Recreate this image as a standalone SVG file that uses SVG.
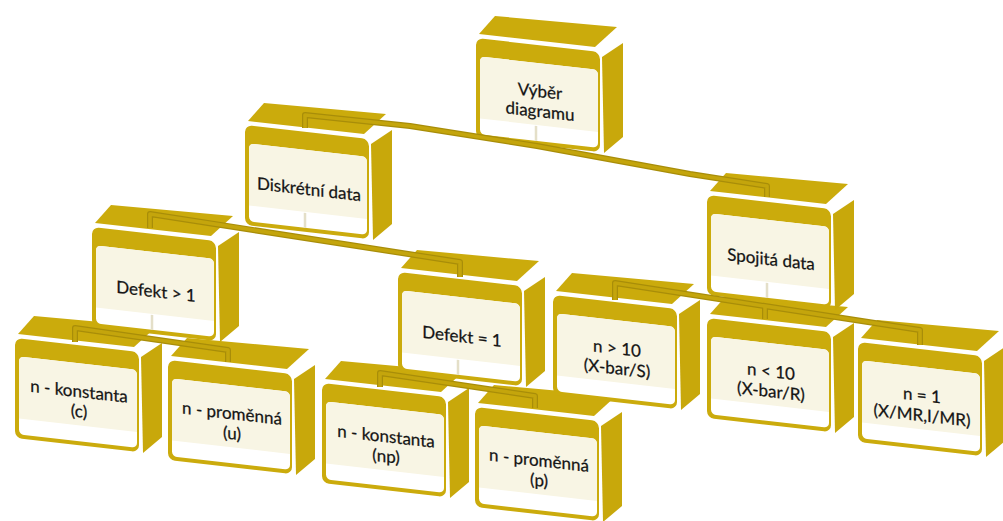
<svg xmlns="http://www.w3.org/2000/svg" width="1003" height="521" viewBox="0 0 1003 521">
  <defs>
    <style>
      .top{fill:#CBAB0C}
      .side{fill:#C8A80B}
      .front{fill:#CBAB0C}
      .panel{fill:#FFFFFF}
      .label{fill:#F8F5E4}
      .drop{stroke:#E4DFC8;stroke-width:2.5}
      .conn-o{fill:none;stroke:#A88D09;stroke-width:6;stroke-linejoin:round}
      .conn-i{fill:none;stroke:#C4A50C;stroke-width:3.6;stroke-linejoin:round}
      text{font-family:Lato,"Open Sans","Liberation Sans",sans-serif;font-size:17px;fill:#141414;stroke:#141414;stroke-width:0.25;text-anchor:middle}
    </style>
    <!-- one 3D box: top face, right face, skewed front face with label panel -->
    <g id="box">
      <polygon class="top" points="3,-4 19,-22 141,-11 119,9"/>
      <polygon class="side" points="126,19 147,5 147,99 128,115"/>
      <g transform="skewY(6.5)">
        <rect class="front" x="0" y="0" width="124" height="100" rx="7"/>
        <rect class="panel" x="4" y="18" width="118" height="78" rx="5"/>
        <path class="label" d="M4,80 V23 Q4,18 9,18 H117 Q122,18 122,23 V80 Z"/>
      </g>
    </g>
    <line id="drop" class="drop" x1="60" y1="81" x2="60" y2="96"/>
  </defs>

  <!-- bottom row first so parents sit in front of their children's top faces -->
  <g id="node-np-konst-c">
    <use href="#box" transform="translate(15,338)"/>
    <g transform="translate(15,338) skewY(6.5)">
      <text x="64" y="52">n - konstanta</text>
      <text x="64" y="72">(c)</text>
    </g>
  </g>
  <g id="node-prom-u">
    <use href="#box" transform="translate(168,360)"/>
    <g transform="translate(168,360) skewY(6.5)">
      <text x="64" y="52">n - proměnná</text>
      <text x="64" y="72">(u)</text>
    </g>
  </g>
  <g id="node-konst-np">
    <use href="#box" transform="translate(322,383)"/>
    <g transform="translate(322,383) skewY(6.5)">
      <text x="64" y="52">n - konstanta</text>
      <text x="64" y="72">(np)</text>
    </g>
  </g>
  <g id="node-prom-p">
    <use href="#box" transform="translate(475,407)"/>
    <g transform="translate(475,407) skewY(6.5)">
      <text x="64" y="52">n - proměnná</text>
      <text x="64" y="72">(p)</text>
    </g>
  </g>
  <g id="node-n-gt-10">
    <use href="#box" transform="translate(553,295)"/>
    <g transform="translate(553,295) skewY(6.5)">
      <text x="64" y="52">n &gt; 10</text>
      <text x="64" y="72">(X-bar/S)</text>
    </g>
  </g>
  <g id="node-n-lt-10">
    <use href="#box" transform="translate(707,318)"/>
    <g transform="translate(707,318) skewY(6.5)">
      <text x="64" y="52">n &lt; 10</text>
      <text x="64" y="72">(X-bar/R)</text>
    </g>
  </g>
  <g id="node-n-eq-1">
    <use href="#box" transform="translate(858,342)"/>
    <g transform="translate(858,342) skewY(6.5)">
      <text x="64" y="52">n = 1</text>
      <text x="64" y="72">(X/MR,I/MR)</text>
    </g>
  </g>

  <g id="node-defekt-gt-1">
    <use href="#box" transform="translate(92,227)"/>
    <g transform="translate(92,227) skewY(6.5)">
      <use href="#drop"/>
      <text x="64" y="63">Defekt &gt; 1</text>
    </g>
  </g>
  <g id="node-defekt-eq-1">
    <use href="#box" transform="translate(398,272)"/>
    <g transform="translate(398,272) skewY(6.5)">
      <use href="#drop"/>
      <text x="64" y="63">Defekt = 1</text>
    </g>
  </g>
  <g id="node-spojita">
    <use href="#box" transform="translate(707,195)"/>
    <g transform="translate(707,195) skewY(6.5)">
      <use href="#drop"/>
      <text x="64" y="63">Spojitá data</text>
    </g>
  </g>
  <g id="node-diskretni">
    <use href="#box" transform="translate(245,125)"/>
    <g transform="translate(245,125) skewY(6.5)">
      <use href="#drop"/>
      <text x="64" y="63">Diskrétní data</text>
    </g>
  </g>
  <g id="node-vyber">
    <use href="#box" transform="translate(476,38)"/>
    <g transform="translate(476,38) skewY(6.5)">
      <use href="#drop"/>
      <text x="64" y="52">Výběr</text>
      <text x="64" y="72">diagramu</text>
    </g>
  </g>

  <!-- connectors: bars running across the tops and dropping into each child -->
  <g id="connectors">
    <path class="conn-o" d="M305,128 V115 L410,126 L537,146 L690,174 L767,186 V197"/>
    <path class="conn-o" d="M150,228 V214 L460,262 V277"/>
    <path class="conn-o" d="M615,300 V283 L920,330 V345 M765,306 V319"/>
    <path class="conn-o" d="M75,342 V328 L228,350 V362"/>
    <path class="conn-o" d="M380,387 V373 L535,396 V408"/>
    <path class="conn-i" d="M305,128 V115 L410,126 L537,146 L690,174 L767,186 V197"/>
    <path class="conn-i" d="M150,228 V214 L460,262 V277"/>
    <path class="conn-i" d="M615,300 V283 L920,330 V345 M765,306 V319"/>
    <path class="conn-i" d="M75,342 V328 L228,350 V362"/>
    <path class="conn-i" d="M380,387 V373 L535,396 V408"/>
  </g>
</svg>
